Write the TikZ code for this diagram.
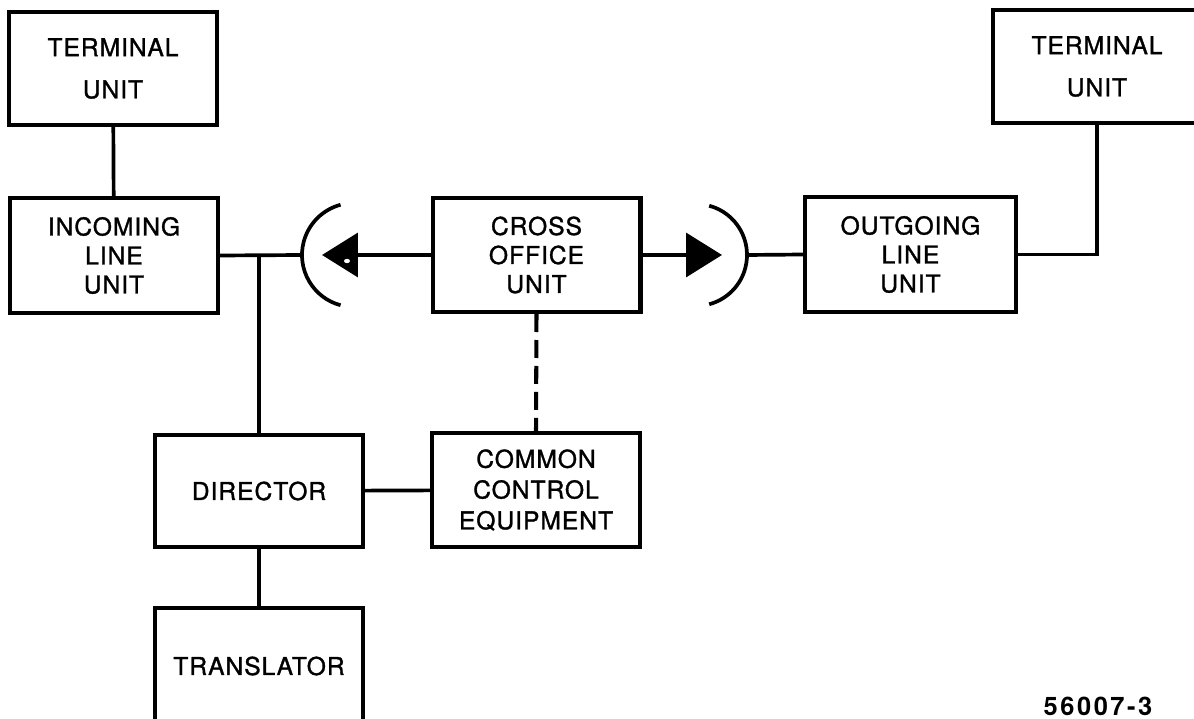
\documentclass[tikz,border=0pt]{standalone}
\usepackage{fontspec}
\setmainfont{TeX Gyre Heros}
\newfontfamily\lettrage[FakeBold=1.3,LetterSpace=4]{TeX Gyre Heros}
\usepackage{tikz}
\usetikzlibrary{arrows.meta,calc}

\tikzset{
  bloc/.style={draw,line width=2.3pt,inner sep=0pt,minimum width=4.16cm,
               align=center,font=\lettrage\fontsize{14}{16.5}\selectfont},
  bloclarge/.style={bloc,font=\lettrage\fontsize{14}{24}\selectfont},
  fleche/.style={-{Triangle[length=0.72cm,width=0.88cm]}},
  tirets/.style={line width=2.3pt,dash pattern=on 0.36cm off 0.16cm}
}

\begin{document}
\begin{tikzpicture}[x=0.02cm,y=-0.02cm,line width=2.1pt]
      \clip (0,0) rectangle (1194,719);
      % rangee du haut
      \node[bloclarge,minimum height=2.26cm] (termG) at (113,68.5) {TERMINAL\\UNIT};
      \node[bloclarge,minimum height=2.26cm] (termD) at (1097,66.5) {TERMINAL\\UNIT};
      \node[bloc,minimum height=2.3cm] (entree) at (114,255.5) {INCOMING\\LINE\\UNIT};
      \node[bloc,minimum height=2.28cm] (croix) at (536.5,255) {CROSS\\OFFICE\\UNIT};
      \node[bloc,minimum height=2.3cm,minimum width=4.22cm] (sortie) at (910.5,254.5) {OUTGOING\\LINE\\UNIT};
      % rangee du bas
      \node[bloc,minimum height=2.24cm] (direct) at (259,491) {DIRECTOR};
      \node[bloc,minimum height=2.28cm,font=\lettrage\fontsize{14}{17.5}\selectfont] (commun) at (536,490) {COMMON\\CONTROL\\EQUIPMENT};
      \node[bloc,minimum height=2.32cm] (trad) at (259,666) {TRANSLATOR};
      \node[font=\bfseries\fontsize{14.5}{16}\selectfont\addfontfeature{LetterSpace=10}] (ref) at (1098,706) {56007-3};
      % jacks
      \coordinate (centreG) at (354,255);
      \coordinate (jackG) at (302,255);
      \coordinate (pointeG) at (322,255);
      \coordinate (centreD) at (696,255);
      \coordinate (jackD) at (747,255);
      \coordinate (pointeD) at (722,255);
      \draw (centreG) ++(105:52) arc[start angle=105,end angle=255,radius=52];
      \draw (centreD) ++(-75:51) arc[start angle=-75,end angle=75,radius=51];
      \draw[fleche] (croix.west) -- (pointeG);
      \draw[fleche] (croix.east) -- (pointeD);
      \fill[white] (347,261) ellipse[x radius=3,y radius=2.2];
      % liaisons
      \coordinate (noeud) at (entree.east -| direct.north);
      \draw (termG) -- (entree);
      \draw (entree.east) -- (jackG);
      \draw (noeud) -- (direct.north);
      \draw (jackD) -- (sortie.west);
      \draw (sortie.east) -| (termD.south);
      \draw (direct) -- (commun);
      \draw (direct) -- (trad);
      \draw[tirets] (croix.south) -- (commun.north);
    \end{tikzpicture}
\end{document}
